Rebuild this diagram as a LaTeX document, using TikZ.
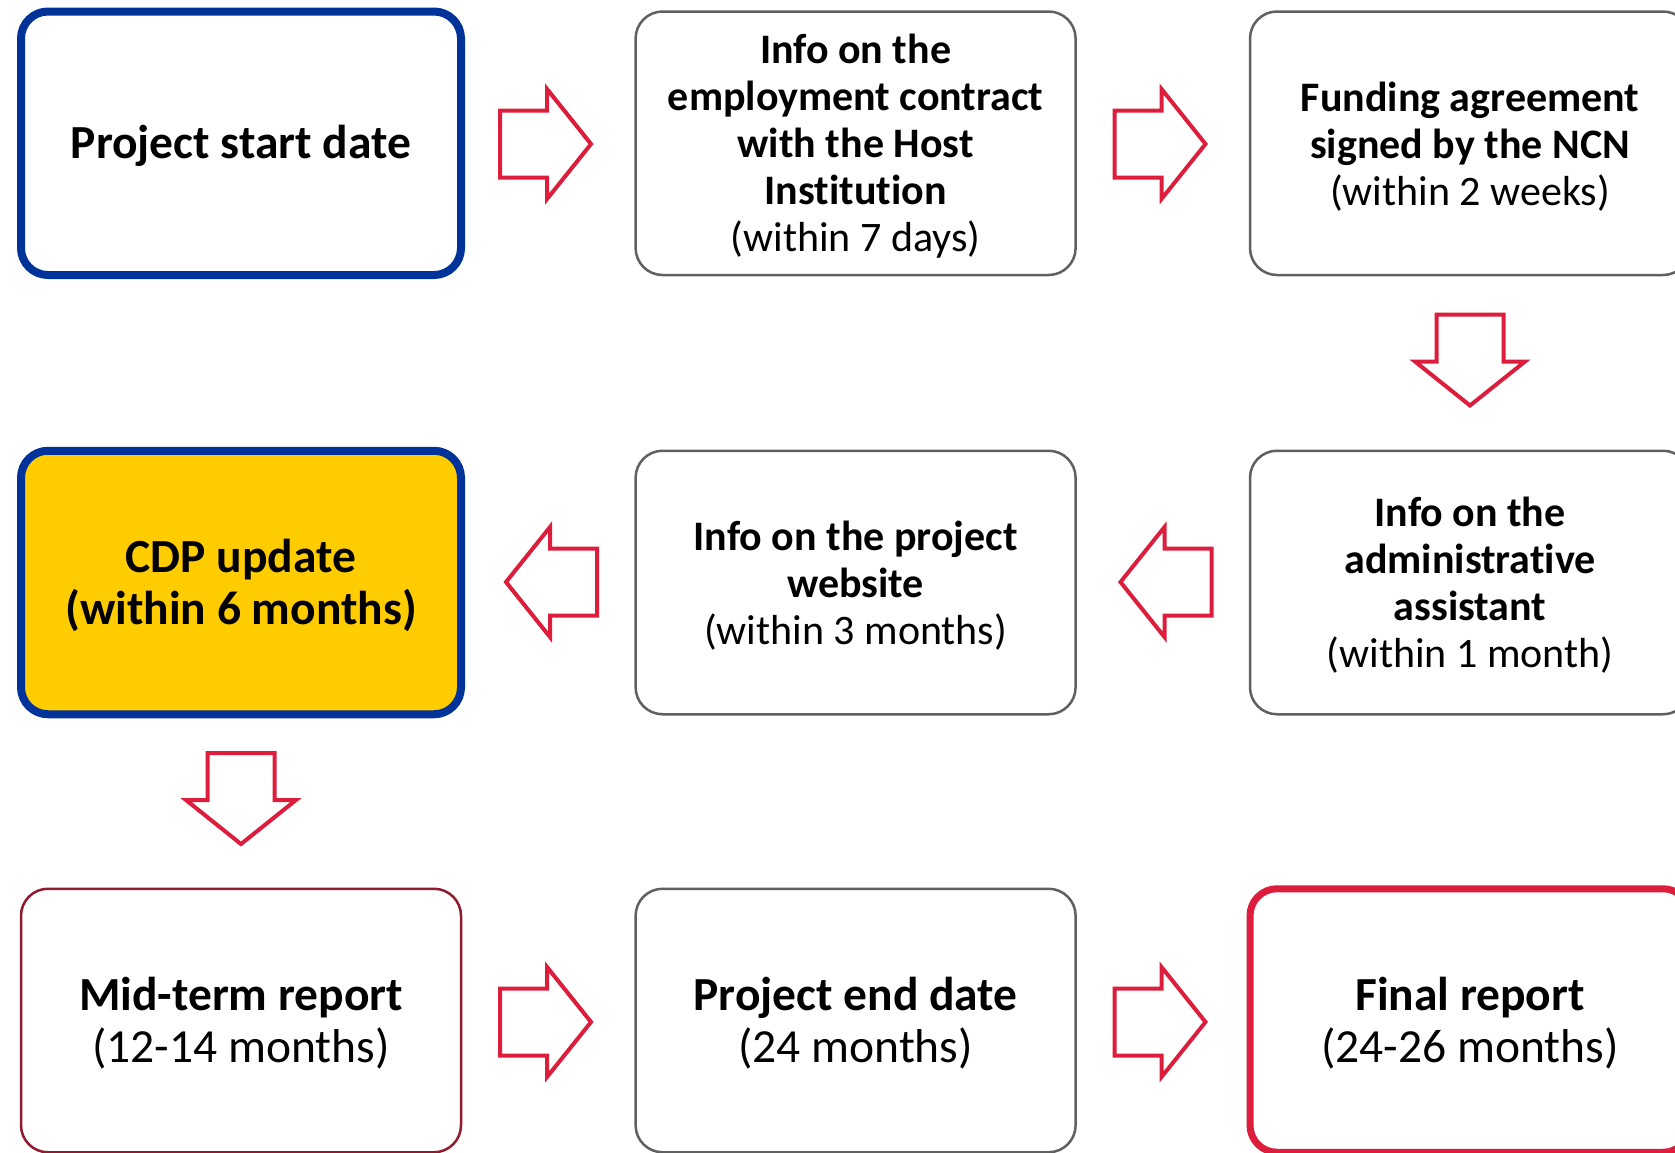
\documentclass[tikz,border=0pt]{standalone}
\usepackage{fontspec}
\setmainfont[Ligatures=NoCommon]{Carlito}
\newcommand\nolig{\kern0pt}
\definecolor{nblue}{HTML}{003399}
\definecolor{nyellow}{HTML}{FFCC00}
\definecolor{nred}{HTML}{DC1E3C}
\definecolor{ngray}{HTML}{606060}
\definecolor{ndarkred}{HTML}{8E1B2E}
\begin{document}
\begin{tikzpicture}[x=1pt,y=-1pt,
  box/.style={draw=ngray, line width=2.5pt, rounded corners=27pt,
    minimum width=440pt, minimum height=263.5pt,
    fill=white, inner sep=0pt},
  keybox/.style={box, draw=nblue, line width=8pt},
  txt/.style={align=center, inner sep=0pt, text=black},
  bigtxt/.style={txt, font=\fontsize{47.5}{52}\selectfont},
  smalltxt/.style={txt, font=\fontsize{42}{47}\selectfont},
  arrowline/.style={draw=nred, line width=4pt, fill=white, line join=miter},
  blockarrow/.pic={\draw[arrowline] (-45.5,-33.5) -- (1.5,-33.5) -- (1.5,-55)
     -- (45.5,0) -- (1.5,55) -- (1.5,33.5) -- (-45.5,33.5) -- cycle;}]
\useasboundingbox (0,0) rectangle (1675,1152);
\clip (0,0) rectangle (1675,1152);
\fill[white] (0,0) rectangle (1675,1152);

% boxes
\node[keybox] (start) at (241,143.25) {};
\node[box] (contract) at (855.6,143.25) {};
\node[box] (funding) at (1470,143.25) {};
\node[keybox, fill=nyellow] (cdp) at (241,582.5) {};
\node[box] (website) at (855.6,582.5) {};
\node[box] (assistant) at (1470,582.5) {};
\node[box, draw=ndarkred] (midterm) at (241,1020.5) {};
\node[box] (enddate) at (855.6,1020.5) {};
\node[box, draw=nred, line width=7pt] (final) at (1470,1020.5) {};

% texts
\node[bigtxt] (start-t) at ([yshift=-3pt]start.center) {\textbf{Project start date}};
\node[smalltxt] (contract-t) at ([yshift=-3pt]contract.center)
  {\textbf{Info on the}\\\textbf{employment contract}\\\textbf{with the Host}\\\textbf{Inst\nolig itut\nolig ion}\\(within 7 days)};
\node[smalltxt] (funding-t) at ([yshift=-3pt]funding.center)
  {\textbf{Funding agreement}\\\textbf{signed by the NCN}\\(within 2 weeks)};
\node[bigtxt] (cdp-t) at ([yshift=-3pt]cdp.center)
  {\textbf{CDP update}\\\textbf{(within 6 months)}};
\node[smalltxt] (website-t) at ([yshift=-3pt]website.center)
  {\textbf{Info on the project}\\\textbf{website}\\(within 3 months)};
\node[smalltxt] (assistant-t) at ([yshift=-3pt]assistant.center)
  {\textbf{Info on the}\\\textbf{administrat\nolig ive}\\\textbf{assistant}\\(within 1 month)};
\node[bigtxt] (midterm-t) at ([yshift=-3pt]midterm.center)
  {\textbf{Mid-term report}\\(12-14 months)};
\node[bigtxt] (enddate-t) at ([yshift=-3pt]enddate.center)
  {\textbf{Project end date}\\(24 months)};
\node[bigtxt] (final-t) at ([yshift=-3pt]final.center)
  {\textbf{Final report}\\(24-26 months)};

% block arrows
\pic at (545.5,144) {blockarrow};
\pic at (1160,144) {blockarrow};
\pic[rotate=-90] at (1470,360) {blockarrow};
\pic[rotate=180] at (1166,582) {blockarrow};
\pic[rotate=180] at (551.5,582) {blockarrow};
\pic[rotate=-90] at (241,798.5) {blockarrow};
\pic at (545.5,1022) {blockarrow};
\pic at (1160,1022) {blockarrow};
\end{tikzpicture}
\end{document}
